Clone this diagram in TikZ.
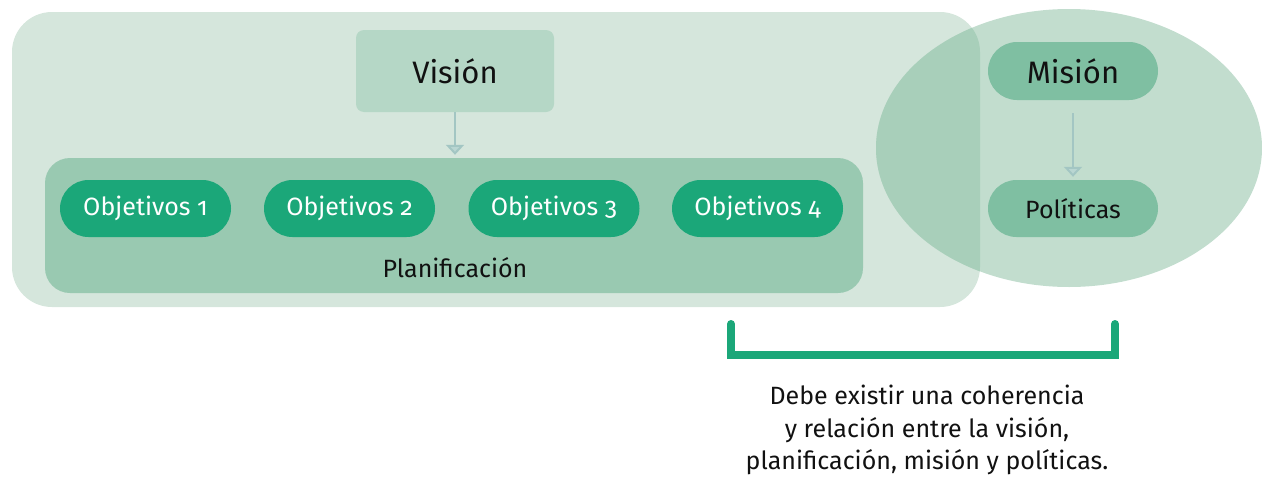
\documentclass[tikz,border=0pt]{standalone}
\usepackage{fontspec}
\setmainfont{Fira Sans}[Numbers=OldStyle]
\usetikzlibrary{arrows.meta,shapes.misc}
\definecolor{paleback}{HTML}{D5E6DC}
\definecolor{ovalfill}{HTML}{C2DDCE}
\definecolor{overlapfill}{HTML}{A8CFBA}
\definecolor{visionfill}{HTML}{B5D7C6}
\definecolor{planfill}{HTML}{99C9B1}
\definecolor{objgreen}{HTML}{1BA779}
\definecolor{misfill}{HTML}{7FBFA2}
\definecolor{arrowcol}{HTML}{A3C6C3}
\definecolor{arrowin}{HTML}{B9D6D2}
\definecolor{inkcol}{HTML}{111111}
\tikzset{
  bodyfont/.style={font=\fontsize{25}{28}\selectfont},
  headfont/.style={font=\fontsize{31}{34}\selectfont},
  objpill/.style={rounded rectangle, fill=objgreen, text=white, minimum width=171pt,
    minimum height=57pt, inner sep=0pt, bodyfont},
  mispill/.style={rounded rectangle, fill=misfill, text=inkcol, minimum width=170pt,
    minimum height=58pt, inner sep=0pt},
  flowarrow/.style={draw=arrowcol, line width=2pt,
    -{Triangle[width=18pt,length=10pt,fill=arrowin]}},
  bracketline/.style={draw=objgreen, line width=8pt, line cap=round, line join=miter}
}
\begin{document}
\begin{tikzpicture}[x=1pt,y=-1pt]
  \useasboundingbox (0,0) rectangle (1262,477);
  % background panel and oval, with their shared region shaded darker
  \fill[paleback, rounded corners=40pt] (12,12) rectangle (980,307);
  \fill[ovalfill] (1069,148) ellipse [x radius=193, y radius=139];
  \begin{scope}
    \clip (1069,148) ellipse [x radius=193, y radius=139];
    \fill[overlapfill, rounded corners=40pt] (12,12) rectangle (980,307);
  \end{scope}
  % vision box
  \node[fill=visionfill, rounded corners=8pt, minimum width=198pt, minimum height=82pt,
    inner sep=0pt, text=inkcol, headfont] (vision) at (455,71) {Visión};
  % planning panel
  \node[fill=planfill, rounded corners=25pt, minimum width=818pt, minimum height=135pt,
    inner sep=0pt] (plan) at (454,225.5) {};
  \node[text=inkcol, bodyfont] (plantext) at (455,268) {Planificación};
  \node[objpill] (o1) at (145.5,208.5) {Objetivos 1};
  \node[objpill] (o2) at (349.5,208.5) {Objetivos 2};
  \node[objpill] (o3) at (554,208.5) {Objetivos 3};
  \node[objpill] (o4) at (757.5,208.5) {Objetivos 4};
  \draw[flowarrow, shorten >=3pt] (vision.south) -- (vision.south |- plan.north);
  % mission side
  \node[mispill, headfont] (mision) at (1073,71) {Misión};
  \node[mispill, minimum height=57pt, bodyfont] (politicas) at (1073,208.5) {Políticas};
  \draw[flowarrow] ([yshift=-13pt]mision.south) -- ([yshift=3pt]politicas.north);
  % bracket and note
  \coordinate (bl) at (731,324);
  \coordinate (br) at (1115,324);
  \draw[bracketline] (bl) -- (731,355) -- (1115,355) -- (br);
  \node[text=inkcol, align=center, font=\fontsize{25}{32.5}\selectfont] (note) at (927,430)
    {Debe existir una coherencia\\y relación entre la visión,\\planificación, misión y políticas.};
\end{tikzpicture}
\end{document}
